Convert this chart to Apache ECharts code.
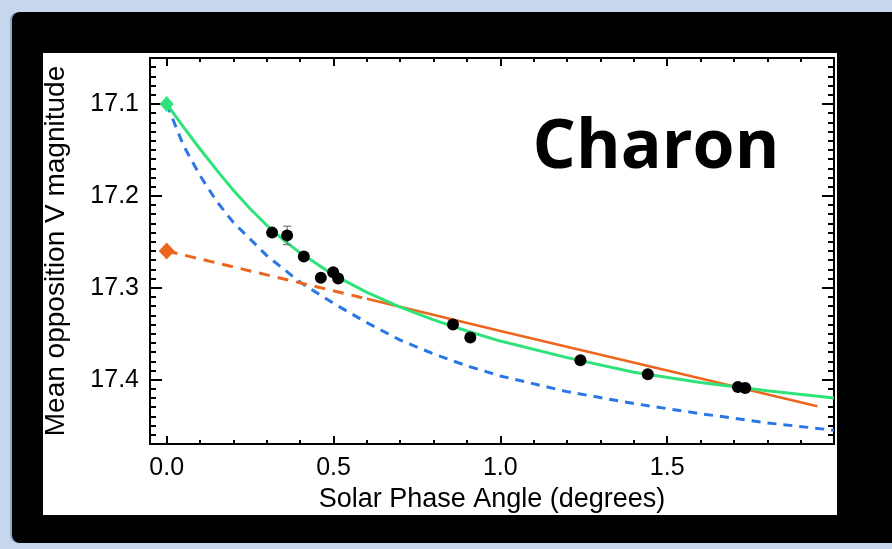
<!DOCTYPE html>
<html>
<head>
<meta charset="utf-8">
<script src="https://cdn.jsdelivr.net/npm/echarts@6/dist/echarts.min.js"></script>
<style>
html,body{margin:0;padding:0;width:892px;height:549px;overflow:hidden;background:#c6d6ec;}
#blk{position:absolute;left:12px;top:12px;width:880px;height:531px;background:#000;border-radius:8px 0 0 8px;box-shadow:-2px 0 0 #8ea7c9;}
#wht{position:absolute;left:43px;top:53px;width:794px;height:462px;background:#fff;}
#chart{position:absolute;left:0;top:0;width:892px;height:549px;}
</style>
</head>
<body>
<div id="blk"></div>
<div id="wht"></div>
<div id="chart"></div>
<script>
// ---- data ----
const obsPhase = [0.316, 0.361, 0.411, 0.462, 0.499, 0.514, 0.858, 0.910, 1.240, 1.442, 1.712, 1.734];
const obsMag   = [17.240, 17.243, 17.266, 17.289, 17.283, 17.290, 17.340, 17.354, 17.379, 17.394, 17.408, 17.409];
const errPhase = [0.361];
const errLow   = [17.233];
const errHigh  = [17.253];

const greenPhase = [0, 0.05, 0.1, 0.15, 0.2, 0.25, 0.3, 0.35, 0.4, 0.5, 0.6, 0.7, 0.8, 0.9, 1.0, 1.2, 1.4, 1.6, 1.8, 2.0];
const greenMag   = [17.100, 17.125, 17.149, 17.172, 17.194, 17.214, 17.232, 17.248, 17.262, 17.286, 17.305, 17.321, 17.335, 17.347, 17.358, 17.376, 17.392, 17.403, 17.412, 17.420];

const bluePhase = [0, 0.05, 0.1, 0.15, 0.2, 0.3, 0.4, 0.5, 0.6, 0.7, 0.8, 0.9, 1.0, 1.2, 1.4, 1.6, 1.8, 2.0];
const blueMag   = [17.100, 17.145, 17.178, 17.206, 17.229, 17.265, 17.294, 17.317, 17.338, 17.357, 17.372, 17.385, 17.396, 17.413, 17.426, 17.437, 17.447, 17.455];

const orangeDashPhase = [0, 0.3, 0.6];
const orangeDashMag   = [17.260, 17.286, 17.312];
const orangeSolidPhase = [0.6, 1.0, 1.5, 1.95];
const orangeSolidMag   = [17.312, 17.347, 17.390, 17.429];

const greenDiamond  = [0, 17.100];
const orangeDiamond = [0, 17.260];

const xMajorTicks = [0, 0.5, 1.0, 1.5];
const yMajorTicks = [17.1, 17.2, 17.3, 17.4];
const xMin = -0.05, xMax = 2.0;
const yMin = 17.05, yMax = 17.47;

const xMinorTicks = [];
for (let i = 0; i <= 19; i++) xMinorTicks.push(+(i * 0.1).toFixed(2));
const yMinorTicks = [];
for (let i = 0; i <= 42; i++) yMinorTicks.push(+(17.05 + i * 0.01).toFixed(2));

const zip = (a, b) => a.map((v, i) => [v, b[i]]);

const FONT = 'Liberation Sans';
const BLACK = '#000';
const GREEN = '#2fe37a';
const BLUE = '#2b76e5';
const ORANGE = '#ec661e';

function xAx(pos, ticks, len, showLine, showLabel) {
  return {
    type: 'value', position: pos, min: xMin, max: xMax, gridIndex: 0,
    axisLine: {show: showLine, onZero: false, lineStyle: {color: BLACK, width: 2}},
    axisTick: {show: true, inside: true, length: len, customValues: ticks, lineStyle: {color: BLACK, width: 2}},
    axisLabel: showLabel ? {show: true, customValues: ticks, formatter: v => v.toFixed(1), fontFamily: FONT, fontSize: 25, color: BLACK, margin: 12} : {show: false},
    splitLine: {show: false}
  };
}
function yAx(pos, ticks, len, showLine, showLabel) {
  return {
    type: 'value', position: pos, min: yMin, max: yMax, inverse: true, gridIndex: 0,
    axisLine: {show: showLine, onZero: false, lineStyle: {color: BLACK, width: 2}},
    axisTick: {show: true, inside: true, length: len, customValues: ticks, lineStyle: {color: BLACK, width: 2}},
    axisLabel: showLabel ? {show: true, customValues: ticks, formatter: v => v.toFixed(1), fontFamily: FONT, fontSize: 25, color: BLACK, margin: 11} : {show: false},
    splitLine: {show: false}
  };
}

const xa0 = xAx('bottom', xMajorTicks, 8, true, true);
xa0.name = 'Solar Phase Angle (degrees)';
xa0.nameLocation = 'middle';
xa0.nameGap = 40;
xa0.nameTextStyle = {fontFamily: FONT, fontSize: 27, color: BLACK};
const ya0 = yAx('left', yMajorTicks, 12, true, true);
ya0.name = 'Mean opposition V magnitude';
ya0.nameLocation = 'middle';
ya0.nameGap = 80;
ya0.nameRotate = 90;
ya0.nameTextStyle = {fontFamily: FONT, fontSize: 28, color: BLACK};

const chart = echarts.init(document.getElementById('chart'), null, {renderer: 'canvas'});
chart.setOption({
  animation: false,
  grid: {left: 150, right: 58, top: 58, bottom: 105, containLabel: false},
  xAxis: [
    xa0,
    xAx('bottom', xMinorTicks, 4, false, false),
    xAx('top', xMajorTicks, 8, true, false),
    xAx('top', xMinorTicks, 4, false, false)
  ],
  yAxis: [
    ya0,
    yAx('left', yMinorTicks, 6, false, false),
    yAx('right', yMajorTicks, 12, true, false),
    yAx('right', yMinorTicks, 6, false, false)
  ],
  graphic: [{
    type: 'text', x: 656, y: 149,
    style: {text: 'Charon', x: 0, y: 0, textAlign: 'center', textVerticalAlign: 'middle',
            fontFamily: 'Open Sans', fontWeight: 'bold', fontSize: 68, fill: BLACK}
  }],
  series: [
    {type: 'line', data: zip(bluePhase, blueMag), showSymbol: false, smooth: false,
     lineStyle: {color: BLUE, width: 3, type: [9, 7]}, z: 2},
    {type: 'line', data: zip(orangeDashPhase, orangeDashMag), showSymbol: false,
     lineStyle: {color: ORANGE, width: 3, type: [11, 8]}, z: 2},
    {type: 'line', data: zip(orangeSolidPhase, orangeSolidMag), showSymbol: false, smooth: false,
     lineStyle: {color: ORANGE, width: 2.5}, z: 2},
    {type: 'line', data: zip(greenPhase, greenMag), showSymbol: false, smooth: false,
     lineStyle: {color: GREEN, width: 3}, z: 3},
    {type: 'scatter', data: [greenDiamond], symbol: 'diamond', symbolSize: [14, 16],
     itemStyle: {color: GREEN, opacity: 1}, z: 4},
    {type: 'scatter', data: [orangeDiamond], symbol: 'diamond', symbolSize: [16, 17],
     itemStyle: {color: ORANGE, opacity: 1}, z: 4},
    {type: 'custom', z: 5,
     data: errPhase.map((p, i) => [p, errLow[i], errHigh[i]]),
     renderItem: function (params, api) {
       const top = api.coord([api.value(0), api.value(1)]);
       const bot = api.coord([api.value(0), api.value(2)]);
       const w = 4;
       const st = {stroke: '#777', lineWidth: 1.2};
       return {type: 'group', children: [
         {type: 'line', shape: {x1: top[0], y1: top[1], x2: bot[0], y2: bot[1]}, style: st},
         {type: 'line', shape: {x1: top[0] - w, y1: top[1], x2: top[0] + w, y2: top[1]}, style: st},
         {type: 'line', shape: {x1: bot[0] - w, y1: bot[1], x2: bot[0] + w, y2: bot[1]}, style: st}
       ]};
     }},
    {type: 'scatter', data: zip(obsPhase, obsMag), symbol: 'circle', symbolSize: 12,
     itemStyle: {color: BLACK, opacity: 1}, z: 6}
  ]
});
</script>
</body>
</html>
